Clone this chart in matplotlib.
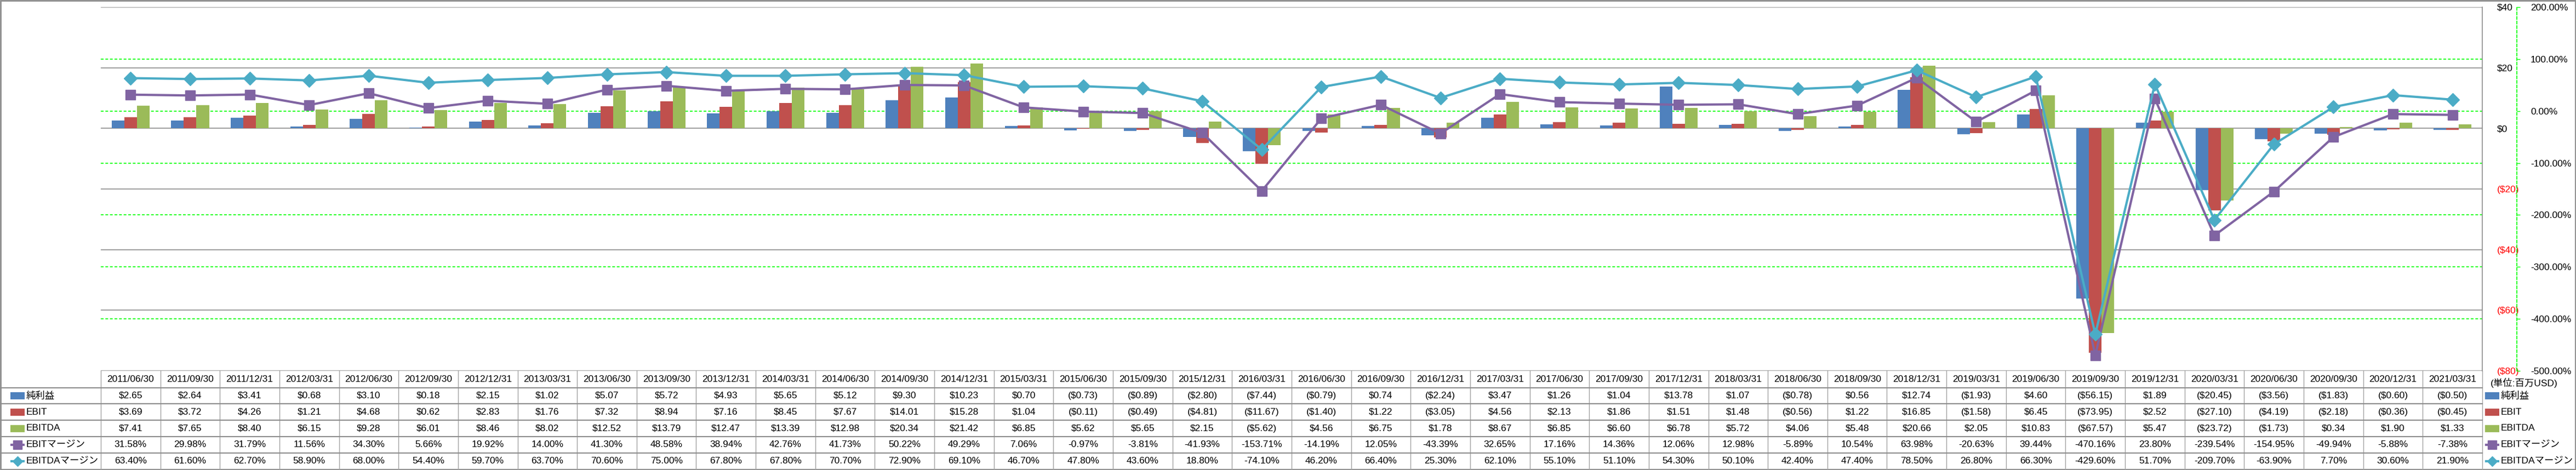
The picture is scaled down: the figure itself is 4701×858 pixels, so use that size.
import numpy as np
import matplotlib
matplotlib.use('Agg')
import matplotlib.pyplot as plt
from matplotlib.patches import Rectangle
from matplotlib.transforms import blended_transform_factory

plt.rcParams['font.family'] = ['Liberation Sans', 'Noto Sans CJK JP']

# --- data (百万USD / %) ---
periods = ['2011/06/30', '2011/09/30', '2011/12/31', '2012/03/31', '2012/06/30',
           '2012/09/30', '2012/12/31', '2013/03/31', '2013/06/30', '2013/09/30',
           '2013/12/31', '2014/03/31', '2014/06/30', '2014/09/30', '2014/12/31',
           '2015/03/31', '2015/06/30', '2015/09/30', '2015/12/31', '2016/03/31',
           '2016/06/30', '2016/09/30', '2016/12/31', '2017/03/31', '2017/06/30',
           '2017/09/30', '2017/12/31', '2018/03/31', '2018/06/30', '2018/09/30',
           '2018/12/31', '2019/03/31', '2019/06/30', '2019/09/30', '2019/12/31',
           '2020/03/31', '2020/06/30', '2020/09/30', '2020/12/31', '2021/03/31']

net_income = [2.65, 2.64, 3.41, 0.68, 3.10, 0.18, 2.15, 1.02, 5.07, 5.72,
              4.93, 5.65, 5.12, 9.30, 10.23, 0.70, -0.73, -0.89, -2.80, -7.44,
              -0.79, 0.74, -2.24, 3.47, 1.26, 1.04, 13.78, 1.07, -0.78, 0.56,
              12.74, -1.93, 4.60, -56.15, 1.89, -20.45, -3.56, -1.83, -0.60, -0.50]

ebit = [3.69, 3.72, 4.26, 1.21, 4.68, 0.62, 2.83, 1.76, 7.32, 8.94,
        7.16, 8.45, 7.67, 14.01, 15.28, 1.04, -0.11, -0.49, -4.81, -11.67,
        -1.40, 1.22, -3.05, 4.56, 2.13, 1.86, 1.51, 1.48, -0.56, 1.22,
        16.85, -1.58, 6.45, -73.95, 2.52, -27.10, -4.19, -2.18, -0.36, -0.45]

ebitda = [7.41, 7.65, 8.40, 6.15, 9.28, 6.01, 8.46, 8.02, 12.52, 13.79,
          12.47, 13.39, 12.98, 20.34, 21.42, 6.85, 5.62, 5.65, 2.15, -5.62,
          4.56, 6.75, 1.78, 8.67, 6.85, 6.60, 6.78, 5.72, 4.06, 5.48,
          20.66, 2.05, 10.83, -67.57, 5.47, -23.72, -1.73, 0.34, 1.90, 1.33]

ebit_margin = [31.58, 29.98, 31.79, 11.56, 34.30, 5.66, 19.92, 14.00, 41.30, 48.58,
               38.94, 42.76, 41.73, 50.22, 49.29, 7.06, -0.97, -3.81, -41.93, -153.71,
               -14.19, 12.05, -43.39, 32.65, 17.16, 14.36, 12.06, 12.98, -5.89, 10.54,
               63.98, -20.63, 39.44, -470.16, 23.80, -239.54, -154.95, -49.94, -5.88, -7.38]

ebitda_margin = [63.40, 61.60, 62.70, 58.90, 68.00, 54.40, 59.70, 63.70, 70.60, 75.00,
                 67.80, 67.80, 70.70, 72.90, 69.10, 46.70, 47.80, 43.60, 18.80, -74.10,
                 46.20, 66.40, 25.30, 62.10, 55.10, 51.10, 54.30, 50.10, 42.40, 47.40,
                 78.50, 26.80, 66.30, -429.60, 51.70, -209.70, -63.90, 7.70, 30.60, 21.90]

row_names = ['純利益', 'EBIT', 'EBITDA', 'EBITマージン', 'EBITDAマージン']
usd_ticks = [-80, -60, -40, -20, 0, 20, 40]
pct_ticks = [-500, -400, -300, -200, -100, 0, 100, 200]
unit_label = '(単位:百万USD)'

C_NET, C_EBIT, C_EBITDA = '#4F81BD', '#C0504D', '#9BBB59'
C_EM, C_EDM = '#8064A2', '#4BACC6'
GRID_GRAY = '#8c8c8c'
GREEN = '#00ff00'
FS = 12.5


def usd(v):
    return f'${v:.2f}' if v >= 0 else f'(${-v:.2f})'


def pct(v):
    return f'{v:.2f}%'


W, H = 4701, 858
fig = plt.figure(figsize=(W / 100, H / 100), dpi=100)

L, R, T, B = 184, 4530, 13, 677
ax = fig.add_axes([L / W, 1 - B / H, (R - L) / W, (B - T) / H])
ax.patch.set_alpha(0)
n = len(periods)
x = np.arange(n)
bw = 0.212
ax.bar(x - bw, net_income, bw, color=C_NET, zorder=2)
ax.bar(x, ebit, bw, color=C_EBIT, zorder=2)
ax.bar(x + bw, ebitda, bw, color=C_EBITDA, zorder=2)
ax.set_xlim(-0.5, n - 0.5)
ax.set_ylim(-80, 40)
ax.set_xticks([])

ax2 = ax.twinx()
ax2.set_ylim(-500, 200)
ax2.plot(x, ebit_margin, color=C_EM, lw=3, marker='s', ms=12.5, mfc=C_EM, mec=C_EM, zorder=3)
ax2.plot(x, ebitda_margin, color=C_EDM, lw=3, marker='D', ms=12.5, mfc=C_EDM, mec=C_EDM, zorder=4)
ax2.set_yticks(pct_ticks, [pct(v) for v in pct_ticks])
ax2.tick_params(axis='y', direction='out', length=4, width=1, color=GREEN, pad=14, labelsize=FS)
for lab, v in zip(ax2.get_yticklabels(), pct_ticks):
    lab.set_color('red' if v < 0 else 'black')
for s in ['left', 'top', 'bottom']:
    ax2.spines[s].set_visible(False)
ax2.spines['right'].set_position(('outward', 63 * 0.72))
ax2.spines['right'].set_color(GREEN)
ax2.spines['right'].set_linestyle((0, (3, 2)))
ax2.spines['right'].set_linewidth(1.2)

# primary $ axis sits on the right too (twinx moved it left)
ax.yaxis.tick_right()
ax.set_yticks(usd_ticks, [('$%d' % v) if v >= 0 else ('($%d)' % -v) for v in usd_ticks])
ax.tick_params(axis='y', length=0, pad=19, labelsize=FS)
for lab, v in zip(ax.get_yticklabels(), usd_ticks):
    lab.set_color('red' if v < 0 else 'black')
ax.grid(axis='y', color=GRID_GRAY, lw=1.2)
ax.set_axisbelow(True)
for s in ['left', 'top', 'bottom']:
    ax.spines[s].set_visible(False)
ax.spines['right'].set_color(GRID_GRAY)
ax.spines['right'].set_linewidth(1.2)

# secondary (percent) gridlines, drawn behind the bars
gtrans = blended_transform_factory(ax.transAxes, ax2.transData)
for v in pct_ticks[1:-1]:
    ax.plot([0, 1], [v, v], transform=gtrans, color=GREEN, lw=1.2,
            ls=(0, (3, 2)), zorder=1)

# --- data table under the chart, in figure pixels ---
tab = fig.add_axes([0, 0, 1, 1], zorder=-1)
tab.set_xlim(0, W)
tab.set_ylim(H, 0)
tab.axis('off')

edges = L + (R - L) / n * np.arange(n + 1)
centers = (edges[:-1] + edges[1:]) / 2
head_h, row_h = 30.5, 29.8
row_top = [B + head_h + k * row_h for k in range(6)]

for xe in edges:
    tab.plot([xe, xe], [B, row_top[-1]], color='#a0a0a0', lw=1)
for yr in row_top[:-1]:
    tab.plot([0, R], [yr, yr], color=GRID_GRAY, lw=1.5)

for cx, p in zip(centers, periods):
    tab.text(cx, B + head_h / 2, p, ha='center', va='center', fontsize=FS)

table_rows = [[usd(v) for v in net_income], [usd(v) for v in ebit],
              [usd(v) for v in ebitda], [pct(v) for v in ebit_margin],
              [pct(v) for v in ebitda_margin]]
for k, vals in enumerate(table_rows):
    cy = row_top[k] + row_h / 2
    for cx, s in zip(centers, vals):
        tab.text(cx, cy, s, ha='center', va='center', fontsize=FS)

legend_style = [('bar', C_NET), ('bar', C_EBIT), ('bar', C_EBITDA),
                ('line', C_EM, 's'), ('line', C_EDM, 'D')]


def legend_entry(x0, cy, st, name):
    if st[0] == 'bar':
        tab.add_patch(Rectangle((x0, cy - 6.5), 26, 13, color=st[1], lw=0))
    else:
        tab.plot([x0, x0 + 26], [cy, cy], color=st[1], lw=3, solid_capstyle='butt')
        tab.plot([x0 + 13], [cy], marker=st[2], ms=9 if st[2] == 'D' else 11,
                 color=st[1], mec=st[1])
    tab.text(x0 + 29, cy, name, ha='left', va='center', fontsize=FS)


for k, (st, name) in enumerate(zip(legend_style, row_names)):
    cy = row_top[k] + row_h / 2
    legend_entry(19, cy, st, name)
    legend_entry(4535, cy, st, name)

tab.text(4545, B + 22, unit_label, ha='left', va='center', fontsize=FS)

tab.add_patch(Rectangle((1, 1), W - 2, H - 2, fill=False, ec=GRID_GRAY, lw=2))

fig.savefig('out.png', dpi=100)
